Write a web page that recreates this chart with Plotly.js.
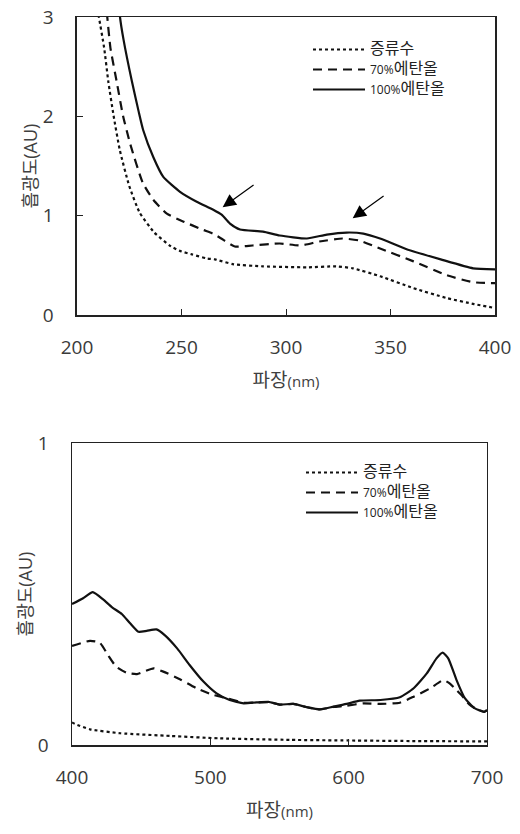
<!DOCTYPE html>
<html>
<head>
<meta charset="utf-8">
<script src="https://cdn.plot.ly/plotly-3.0.1.min.js"></script>
<style>
  html, body { margin: 0; padding: 0; background: #fff; }
  #chart { width: 520px; height: 834px; }
</style>
</head>
<body>
<div id="chart"></div>
<script>
// ---- Series names ----
const seriesNames = [
  '<span style="font-size:16px">증류수</span>',
  '70%<span style="font-size:16px">에탄올</span>',
  '100%<span style="font-size:16px">에탄올</span>'
];

// ---- Top chart (200–400 nm) ----
const topWaterX = [209, 210.5, 213, 215, 217.5, 220.5, 225, 230, 237, 245, 250, 255, 262, 266, 275, 289, 310, 324, 332, 345, 361, 377, 390, 400];
const topWaterY = [3.2, 3.0, 2.69, 2.35, 2.01, 1.66, 1.30, 1.03, 0.83, 0.69, 0.64, 0.61, 0.57, 0.56, 0.51, 0.49, 0.48, 0.49, 0.47, 0.39, 0.27, 0.17, 0.11, 0.07];

const topEth70X = [213.5, 214.5, 216, 219, 222, 225.5, 231.5, 236.5, 243, 251, 260, 265, 269, 275.5, 284, 297, 307, 316, 327, 335, 345, 361, 377, 389.5, 400];
const topEth70Y = [3.2, 3.0, 2.69, 2.35, 2.01, 1.72, 1.33, 1.16, 1.02, 0.94, 0.86, 0.82, 0.77, 0.69, 0.70, 0.72, 0.70, 0.74, 0.77, 0.75, 0.67, 0.54, 0.40, 0.33, 0.32];

const topEth100X = [220, 220.6, 222.3, 226.3, 229.5, 231.7, 236.5, 241.3, 249.3, 257.3, 265.2, 269.2, 273.2, 278, 289, 297, 310, 319.5, 329, 337, 345, 358, 374, 389.5, 400];
const topEth100Y = [3.2, 3.0, 2.77, 2.35, 2.05, 1.86, 1.59, 1.39, 1.24, 1.14, 1.06, 1.01, 0.92, 0.86, 0.84, 0.80, 0.77, 0.81, 0.83, 0.82, 0.77, 0.66, 0.56, 0.47, 0.46];

// ---- Bottom chart (400–700 nm) ----
const botWaterX = [400, 402, 413, 435, 471, 507, 558, 600, 650, 700];
const botWaterY = [0.075, 0.070, 0.052, 0.039, 0.030, 0.022, 0.017, 0.015, 0.013, 0.012];

const botEth70X = [400, 413, 420, 426, 432, 439.5, 447, 459, 466, 478, 490, 502, 512, 524, 533.5, 542, 550, 560, 570, 579, 589, 598.5, 610.5, 623, 637, 647, 659, 668.5, 673, 678, 682, 687, 692, 698, 700];
const botEth70Y = [0.328, 0.345, 0.339, 0.298, 0.259, 0.239, 0.235, 0.254, 0.243, 0.218, 0.188, 0.166, 0.155, 0.140, 0.141, 0.142, 0.134, 0.136, 0.125, 0.118, 0.126, 0.130, 0.138, 0.136, 0.140, 0.160, 0.188, 0.215, 0.204, 0.182, 0.163, 0.135, 0.120, 0.110, 0.115];

const botEth100X = [400, 408, 415, 422.5, 429, 436, 442, 448, 454, 461, 467, 476, 485, 495, 504.5, 514, 524, 533.5, 542, 550, 560, 570, 579, 589, 598.5, 608, 623, 637, 647, 656.5, 663.5, 668, 672, 678, 684, 691, 698, 700];
const botEth100Y = [0.467, 0.486, 0.506, 0.482, 0.456, 0.434, 0.403, 0.375, 0.378, 0.383, 0.364, 0.320, 0.265, 0.210, 0.171, 0.149, 0.138, 0.141, 0.143, 0.134, 0.136, 0.125, 0.118, 0.127, 0.136, 0.147, 0.149, 0.158, 0.188, 0.237, 0.287, 0.306, 0.287, 0.215, 0.155, 0.122, 0.110, 0.115];

// ---- Axis labels / ticks ----
const xTitleText = '파장<span style="font-size:15px">(nm)</span>';
const yTitleText = '흡광도(AU)';
const topXTicks = [200, 250, 300, 350, 400];
const topYTicks = [0, 1, 2, 3];
const botXTicks = [400, 500, 600, 700];
const botYTicks = [0, 1];

const FONT = '"Open Sans", "Noto Sans CJK KR", sans-serif';
const styles = [
  {dash: 'dot', width: 2.2},
  {dash: '9px,6px', width: 2.2},
  {dash: 'solid', width: 2.2}
];

function mk(x, y, i, xa, ya, leg) {
  return {
    x: x, y: y, type: 'scatter', mode: 'lines', name: seriesNames[i],
    xaxis: xa, yaxis: ya, legend: leg, legendgroup: leg + i,
    line: {color: '#111', width: styles[i].width, dash: styles[i].dash, shape: 'spline', smoothing: 0.5},
    hoverinfo: 'skip'
  };
}

const data = [
  mk(topWaterX, topWaterY, 0, 'x', 'y', 'legend'),
  mk(topEth70X, topEth70Y, 1, 'x', 'y', 'legend'),
  mk(topEth100X, topEth100Y, 2, 'x', 'y', 'legend'),
  mk(botWaterX, botWaterY, 0, 'x2', 'y2', 'legend2'),
  mk(botEth70X, botEth70Y, 1, 'x2', 'y2', 'legend2'),
  mk(botEth100X, botEth100Y, 2, 'x2', 'y2', 'legend2')
];

function xAxis(domain, range, ticks, anchor) {
  return {
    domain: domain, range: range, tickvals: ticks, anchor: anchor,
    ticks: 'inside', ticklen: 6, tickwidth: 1, tickcolor: '#222',
    showline: true, linecolor: '#222', linewidth: 1.5, mirror: true,
    showgrid: false, zeroline: false,
    tickfont: {family: FONT, size: 19, color: '#3a3a3a'},
    ticklabelstandoff: 15,
    title: {text: xTitleText, font: {family: FONT, size: 19, color: '#404040'}, standoff: 14},
    fixedrange: true
  };
}
function yAxis(domain, range, ticks, anchor) {
  return {
    domain: domain, range: range, tickvals: ticks, anchor: anchor,
    ticks: 'inside', ticklen: 6, tickwidth: 1, tickcolor: '#222',
    showline: true, linecolor: '#222', linewidth: 1.5, mirror: true,
    showgrid: false, zeroline: false,
    tickfont: {family: FONT, size: 19, color: '#3a3a3a'},
    ticklabelstandoff: 18,
    title: {text: yTitleText, font: {family: FONT, size: 18, color: '#404040'}, standoff: 0},
    fixedrange: true
  };
}

const legendBase = {
  bgcolor: 'rgba(0,0,0,0)', borderwidth: 0,
  font: {family: FONT, size: 12, color: '#222'},
  traceorder: 'grouped', tracegroupgap: 1,
  itemwidth: 52,
  xanchor: 'left', yanchor: 'top', itemclick: false
};

const layout = {
  width: 520, height: 834,
  margin: {l: 0, r: 0, t: 0, b: 0},
  paper_bgcolor: '#fff', plot_bgcolor: '#fff',
  showlegend: true,
  font: {family: FONT},
  xaxis: xAxis([0.148, 0.952], [200, 400], topXTicks, 'y'),
  yaxis: yAxis([0.6223, 0.9796], [0, 3], topYTicks, 'x'),
  xaxis2: xAxis([0.1385, 0.9365], [400, 700], botXTicks, 'y2'),
  yaxis2: yAxis([0.1067, 0.4688], [0, 1], botYTicks, 'x2'),
  legend: Object.assign({}, legendBase, {x: 308 / 520, y: 1 - 35 / 834}),
  legend2: Object.assign({}, legendBase, {x: 301 / 520, y: 1 - 458 / 834}),
  annotations: [
    {x: 269.7, y: 1.085, ax: 285.2, ay: 1.32, xref: 'x', yref: 'y', axref: 'x', ayref: 'y',
     showarrow: true, arrowhead: 2, arrowsize: 2.2, arrowwidth: 1.2, arrowcolor: '#000', text: ''},
    {x: 331.9, y: 0.974, ax: 347.4, ay: 1.21, xref: 'x', yref: 'y', axref: 'x', ayref: 'y',
     showarrow: true, arrowhead: 2, arrowsize: 2.2, arrowwidth: 1.2, arrowcolor: '#000', text: ''}
  ]
};

Plotly.newPlot('chart', data, layout, {displayModeBar: false, staticPlot: true});
</script>
</body>
</html>
